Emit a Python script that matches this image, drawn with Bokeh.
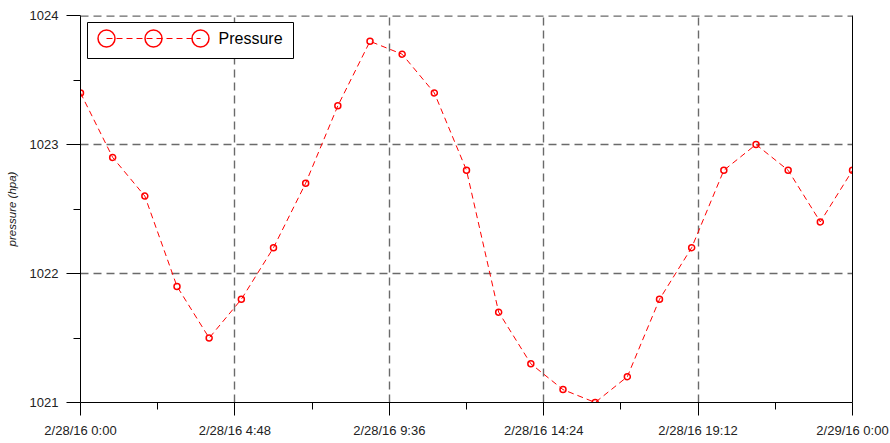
from bokeh.plotting import figure
from bokeh.models import (ColumnDataSource, FixedTicker, LinearAxis, Range1d, Span)
from bokeh.core.properties import value
from bokeh.embed import file_html
from bokeh.resources import INLINE

# ---- data ----
hours = [0, 1, 2, 3, 4, 5, 6, 7, 8, 9, 10, 11, 12, 13, 14, 15, 16, 17, 18, 19, 20, 21, 22, 23, 24]
pressure = [1023.4, 1022.9, 1022.6, 1021.9, 1021.5, 1021.8, 1022.2, 1022.7, 1023.3, 1023.8,
            1023.7, 1023.4, 1022.8, 1021.7, 1021.3, 1021.1, 1021.0, 1021.2, 1021.8, 1022.2,
            1022.8, 1023.0, 1022.8, 1022.4, 1022.8]
x_tick_values = [0, 4.8, 9.6, 14.4, 19.2, 24]
x_tick_labels = ["2/28/16 0:00", "2/28/16 4:48", "2/28/16 9:36", "2/28/16 14:24",
                 "2/28/16 19:12", "2/29/16 0:00"]
x_minor_values = [2.4, 7.2, 12.0, 16.8, 21.6]
y_tick_values = [1021, 1022, 1023, 1024]
y_minor_values = [1021.5, 1022.5, 1023.5]
series_name = "Pressure"

FONT = "Liberation Sans"
RED = "#ff0000"
GRID = "#6a6a6a"

source = ColumnDataSource(data=dict(x=hours, y=pressure))

p = figure(width=890, height=443, output_backend="svg", toolbar_location=None,
           x_range=Range1d(0, 24), y_range=Range1d(1021, 1024),
           min_border_left=80, min_border_right=38, min_border_top=15, min_border_bottom=41)
p.outline_line_color = None
p.background_fill_color = "white"
p.border_fill_color = "white"

# axes styling
for ax, ticks, minors in ((p.xaxis[0], x_tick_values, x_minor_values),
                          (p.yaxis[0], y_tick_values, y_minor_values)):
    ax.ticker = FixedTicker(ticks=ticks, minor_ticks=minors)
    ax.axis_line_color = "black"
    ax.axis_line_width = 1
    ax.major_tick_line_color = "black"
    ax.minor_tick_line_color = "black"
    ax.major_tick_in = 0
    ax.minor_tick_in = 0
    ax.major_tick_out = 13
    ax.minor_tick_out = 7
    ax.major_label_text_font = FONT
    ax.major_label_text_font_size = "13px"
    ax.major_label_text_color = "#222222"
    ax.major_label_standoff = 7

p.xaxis[0].major_label_overrides = {v: l for v, l in zip(x_tick_values, x_tick_labels)}
p.yaxis[0].major_tick_out = 14
p.yaxis[0].major_label_standoff = 8
p.yaxis[0].axis_label = "pressure (hpa)"
p.yaxis[0].axis_label_text_font = FONT
p.yaxis[0].axis_label_text_font_style = "italic"
p.yaxis[0].axis_label_text_font_size = "11.5px"
p.yaxis[0].axis_label_text_color = "#222222"
p.yaxis[0].axis_label_standoff = 9

# right border line
right_axis = LinearAxis(major_tick_line_color=None, minor_tick_line_color=None,
                        major_label_text_font_size="0px", axis_line_color="black",
                        major_label_standoff=0, ticker=FixedTicker(ticks=[]))
p.add_layout(right_axis, "right")

# grid
for g in (p.xgrid[0], p.ygrid[0]):
    g.grid_line_color = GRID
    g.grid_line_width = 1.4
    g.grid_line_dash = "8 5"
p.xgrid[0].ticker = FixedTicker(ticks=x_tick_values)
p.ygrid[0].ticker = FixedTicker(ticks=y_tick_values)
# top grid line (at the upper range edge)
p.add_layout(Span(location=y_tick_values[-1], dimension="width", line_color=GRID,
                  line_width=2.4, line_dash="8 5"))

# series
p.line("x", "y", source=source, line_color=RED, line_width=1, line_dash="6 4")
p.scatter("x", "y", source=source, marker="circle", size=6, line_color=RED,
          line_width=1.5, fill_color=None)

# ---- custom legend in pixel-like coordinates of the frame ----
p.extra_x_ranges = {"px": Range1d(0, 772)}
p.extra_y_ranges = {"px": Range1d(387, 0)}
lg_left, lg_right, lg_top, lg_bottom = 7, 213, 7, 43
lg_cy = 23
lg_cx = [26, 73, 120]
p.quad(left=[lg_left], right=[lg_right], top=[lg_top], bottom=[lg_bottom],
       x_range_name="px", y_range_name="px", fill_color="white",
       line_color="black", line_width=1)
p.line(x=[lg_cx[0], lg_cx[-1]], y=[lg_cy, lg_cy], x_range_name="px", y_range_name="px",
       line_color=RED, line_width=1, line_dash="6 4")
p.scatter(x=lg_cx, y=[lg_cy] * 3, x_range_name="px", y_range_name="px",
          marker="circle", size=17, line_color=RED, line_width=1.5, fill_color=None)
p.text(x=[138], y=[lg_cy], text=[series_name], x_range_name="px", y_range_name="px",
       text_font=value(FONT), text_font_size="16px", text_color="black",
       text_baseline="middle", text_align="left")

open("out.html", "w").write(file_html(p, INLINE))
